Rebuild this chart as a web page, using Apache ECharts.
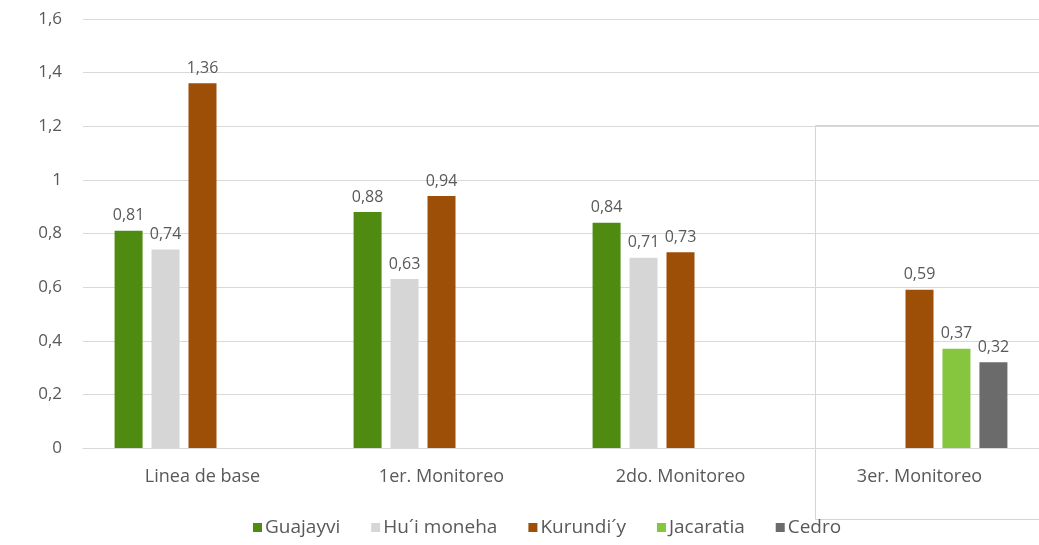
<!DOCTYPE html>
<html>
<head>
<meta charset="utf-8">
<script src="https://cdn.jsdelivr.net/npm/echarts@6/dist/echarts.min.js"></script>
<style>
  html, body { margin: 0; padding: 0; background: #fff; }
  #chart { width: 1039px; height: 545px; }
</style>
</head>
<body>
<div id="chart"></div>
<script>
// Monitoring stages (x axis)
const categories = ['Linea de base', '1er. Monitoreo', '2do. Monitoreo', '3er. Monitoreo'];

// Species values per stage (null = not measured)
const guajayvi  = [0.81, 0.88, 0.84, null];
const huiMoneha = [0.74, 0.63, 0.71, null];
const kurundiy  = [1.36, 0.94, 0.73, 0.59];
const jacaratia = [null, null, null, 0.37];
const cedro     = [null, null, null, 0.32];

const seriesNames = ['Guajayvi', 'Hu´i moneha', 'Kurundi´y', 'Jacaratia', 'Cedro'];
const seriesData = [guajayvi, huiMoneha, kurundiy, jacaratia, cedro];
const seriesColors = ['#4f8b10', '#d6d6d6', '#9e4f07', '#86c63f', '#6b6b6b'];

const FONT = 'Open Sans';
const TEXT = '#595959';
const comma = v => String(v).replace('.', ',');

const chart = echarts.init(document.getElementById('chart'), null, { renderer: 'canvas' });

chart.setOption({
  animation: false,
  backgroundColor: '#ffffff',
  textStyle: { fontFamily: FONT },
  grid: { left: 83, right: 0, top: 19, bottom: 97, containLabel: false },
  legend: {
    bottom: 3,
    left: 248,
    padding: 5,
    itemWidth: 9,
    itemHeight: 9,
    itemGap: 31,
    icon: 'rect',
    textStyle: { fontFamily: FONT, fontSize: 19, color: TEXT, padding: [0, 0, 0, -2] },
    data: seriesNames
  },
  xAxis: {
    type: 'category',
    data: categories,
    axisLine: { show: true, lineStyle: { color: '#d9d9d9', width: 1 } },
    axisTick: { show: false },
    axisLabel: { fontFamily: FONT, fontSize: 18, color: TEXT, margin: 20 }
  },
  yAxis: {
    type: 'value',
    min: 0,
    max: 1.6,
    interval: 0.2,
    axisLine: { show: false },
    axisTick: { show: false },
    splitLine: { lineStyle: { color: '#d9d9d9', width: 1 } },
    axisLabel: {
      fontFamily: FONT, fontSize: 17, color: TEXT, margin: 21,
      formatter: v => comma(Math.round(v * 10) / 10)
    }
  },
  series: seriesNames.map((name, i) => ({
    name,
    type: 'bar',
    data: seriesData[i],
    barWidth: 28,
    barGap: '32%',
    itemStyle: { color: seriesColors[i] },
    label: {
      show: true,
      position: 'top',
      distance: 7,
      fontFamily: FONT,
      fontSize: 16,
      color: TEXT,
      formatter: p => comma(p.value)
    }
  })),
  graphic: [{
    type: 'rect',
    left: 813,
    top: 123,
    shape: { width: 240, height: 394 },
    style: { fill: 'none', stroke: '#d4d4d4', lineWidth: 1 },
    silent: true
  }]
});
</script>
</body>
</html>
